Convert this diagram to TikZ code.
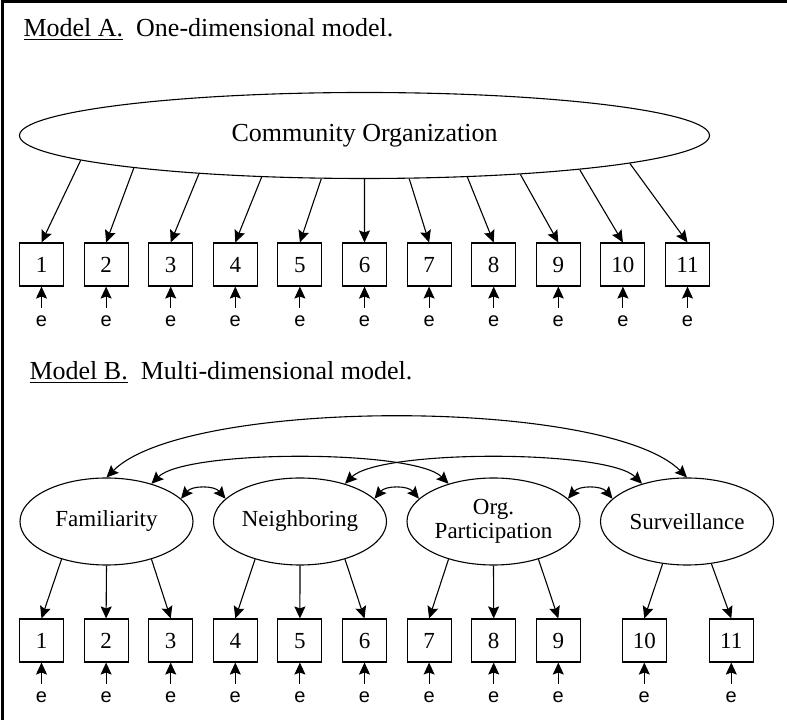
\documentclass[tikz,border=0pt]{standalone}
\usepackage{fontspec}
\setmainfont{Liberation Serif}
\setsansfont{Liberation Sans}
\usetikzlibrary{arrows.meta,shapes}

\tikzset{
  latent/.style={ellipse,draw,inner sep=0pt,align=center,
                 minimum width=173pt,minimum height=87pt,
                 font=\fontsize{23}{24}\selectfont},
  obs/.style={rectangle,draw,inner sep=0pt,minimum width=44pt,minimum height=43pt,
              text height=15.5pt,text depth=0pt,font=\fontsize{23}{23}\selectfont},
  err/.style={inner xsep=0pt,inner ysep=7pt,node distance=57pt,
              font=\sffamily\fontsize{20}{20}\selectfont},
  heading/.style={anchor=base west,inner sep=0pt,font=\fontsize{26}{30}\selectfont}
}

\begin{document}
\begin{tikzpicture}[->,>={Stealth[length=12pt,width=11pt,inset=2pt]},
                    x=1pt,y=1pt,node distance=64.6pt,line width=1.1pt]
  \useasboundingbox (0,0) rectangle (787,720);
  \draw[-,line width=3pt] (2.5,0) -- (2.5,718.5) -- (787,718.5);

  % Model A
  \node[heading] (ta) at (23,683) {\underline{Model A.}\hspace{0.5em}One-dimensional model.};
  \node[latent,minimum width=690pt,minimum height=86pt,
        font=\fontsize{26}{30}\selectfont] (co) at (364.5,584.5) {Community Organization};

  \node[obs] (a1) at (41.5,455.5) {1};
  \node[obs] (a2)  [right of=a1] {2};
  \node[obs] (a3)  [right of=a2] {3};
  \node[obs] (a4)  [right of=a3] {4};
  \node[obs] (a5)  [right of=a4] {5};
  \node[obs] (a6)  [right of=a5] {6};
  \node[obs] (a7)  [right of=a6] {7};
  \node[obs] (a8)  [right of=a7] {8};
  \node[obs] (a9)  [right of=a8] {9};
  \node[obs] (a10) [right of=a9] {10};
  \node[obs] (a11) [right of=a10] {11};

  \node[err] (ea1)  [below of=a1] {e};
  \node[err] (ea2)  [below of=a2] {e};
  \node[err] (ea3)  [below of=a3] {e};
  \node[err] (ea4)  [below of=a4] {e};
  \node[err] (ea5)  [below of=a5] {e};
  \node[err] (ea6)  [below of=a6] {e};
  \node[err] (ea7)  [below of=a7] {e};
  \node[err] (ea8)  [below of=a8] {e};
  \node[err] (ea9)  [below of=a9] {e};
  \node[err] (ea10) [below of=a10] {e};
  \node[err] (ea11) [below of=a11] {e};

  \path (co.185.1) edge (a1.north)
        (co.188.8) edge (a2.north)
        (co.193.1) edge (a3.north)
        (co.202)   edge (a4.north)
        (co.225.1) edge (a5.north)
        (co.270)   edge (a6.north)
        (co.316.3) edge (a7.north)
        (co.338.2) edge (a8.north)
        (co.346.9) edge (a9.north)
        (co.351.1) edge (a10.north)
        (co.354.6) edge (a11.north);

  \path (ea1) edge (a1)   (ea2) edge (a2)   (ea3) edge (a3)
        (ea4) edge (a4)   (ea5) edge (a5)   (ea6) edge (a6)
        (ea7) edge (a7)   (ea8) edge (a8)   (ea9) edge (a9)
        (ea10) edge (a10) (ea11) edge (a11);

  % Model B
  \node[heading] (tb) at (29,340) {\underline{Model B.}\hspace{0.5em}Multi-dimensional model.};

  \node[latent] (fam)  at (106.5,198.5)                  {Familiarity};
  \node[latent] (nbr)  [node distance=193.5pt,right of=fam] {Neighboring};
  \node[latent] (org)  [node distance=193.5pt,right of=nbr] {Org.\\Participation};
  \node[latent] (surv) [node distance=193.5pt,right of=org] {Surveillance};

  \node[obs] (b1) at (41.5,79.5) {1};
  \node[obs] (b2)  [right of=b1] {2};
  \node[obs] (b3)  [right of=b2] {3};
  \node[obs] (b4)  [right of=b3] {4};
  \node[obs] (b5)  [right of=b4] {5};
  \node[obs] (b6)  [right of=b5] {6};
  \node[obs] (b7)  [right of=b6] {7};
  \node[obs] (b8)  [right of=b7] {8};
  \node[obs] (b9)  [right of=b8] {9};
  \node[obs] (b10) [node distance=86pt,right of=b9] {10};
  \node[obs] (b11) [node distance=87pt,right of=b10] {11};

  \node[err] (eb1)  [below of=b1] {e};
  \node[err] (eb2)  [below of=b2] {e};
  \node[err] (eb3)  [below of=b3] {e};
  \node[err] (eb4)  [below of=b4] {e};
  \node[err] (eb5)  [below of=b5] {e};
  \node[err] (eb6)  [below of=b6] {e};
  \node[err] (eb7)  [below of=b7] {e};
  \node[err] (eb8)  [below of=b8] {e};
  \node[err] (eb9)  [below of=b9] {e};
  \node[err] (eb10) [below of=b10] {e};
  \node[err] (eb11) [below of=b11] {e};

  \path (fam.220)   edge (b1.north)
        (fam.south) edge (b2.north)
        (fam.320)   edge (b3.north)
        (nbr.220)   edge (b4.north)
        (nbr.south) edge (b5.north)
        (nbr.320)   edge (b6.north)
        (org.220)   edge (b7.north)
        (org.south) edge (b8.north)
        (org.320)   edge (b9.north)
        (surv.240)  edge (b10.north)
        (surv.300)  edge (b11.north);

  \path (eb1) edge (b1)   (eb2) edge (b2)   (eb3) edge (b3)
        (eb4) edge (b4)   (eb5) edge (b5)   (eb6) edge (b6)
        (eb7) edge (b7)   (eb8) edge (b8)   (eb9) edge (b9)
        (eb10) edge (b10) (eb11) edge (b11);

  % correlations between the factors
  \path (fam.17) edge [<->,out=50,in=130] (nbr.163)
        (nbr.17) edge [<->,out=50,in=130] (org.163)
        (org.17) edge [<->,out=50,in=130] (surv.163)
        (fam.40) edge [<->,out=45,in=135,looseness=0.42] (org.140)
        (nbr.40) edge [<->,out=45,in=135,looseness=0.42] (surv.140)
        (fam.90) edge [<->,out=45,in=135,looseness=0.5]  (surv.90);
\end{tikzpicture}
\end{document}
